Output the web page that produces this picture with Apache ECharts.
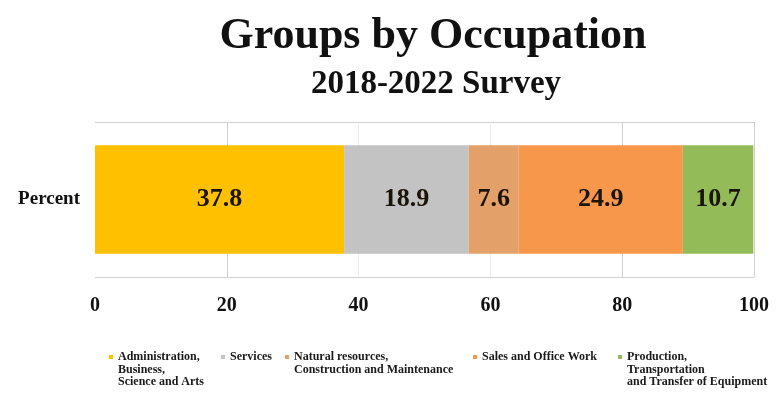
<!DOCTYPE html>
<html>
<head>
<meta charset="utf-8">
<script src="https://cdn.jsdelivr.net/npm/echarts@6/dist/echarts.min.js"></script>
<style>
  html, body { margin: 0; padding: 0; background: #ffffff; }
  #chart { width: 780px; height: 396px; }
</style>
</head>
<body>
<div id="chart"></div>
<script>
// Occupation shares, 2018-2022 survey (percent of total)
const categories = ['Percent'];
const groupNames = [
  'Administration,\nBusiness,\nScience and Arts',
  'Services',
  'Natural resources,\nConstruction and Maintenance',
  'Sales and Office Work',
  'Production,\nTransportation\nand Transfer of Equipment'
];
const groupValues = [37.8, 18.9, 7.6, 24.9, 10.7];
const groupColors = ['#FFC000', '#C3C3C3', '#E3A068', '#F7974B', '#93BC58'];
const axisTicks = [0, 20, 40, 60, 80, 100];

const SERIF = '"Liberation Serif", "Times New Roman", serif';
const LEGEND_LINE = 12.5;
const legendLeft = [109, 221, 285, 473, 618];
const legendFirstLineY = 357;

const series = groupNames.map((name, i) => ({
  name: name,
  type: 'bar',
  stack: 'total',
  barWidth: '70%',
  data: [groupValues[i]],
  itemStyle: { color: groupColors[i] },
  label: {
    show: true,
    position: 'inside',
    formatter: (p) => p.value.toFixed(1),
    fontFamily: SERIF,
    fontWeight: 'bold',
    fontSize: 26,
    color: '#1b1409'
  }
}));

// one legend per group so each entry sits where its text block belongs;
// blank lines ahead of the name keep the square marker level with the first text line
const legends = groupNames.map((name, i) => {
  const lines = name.split('\n').length;
  return {
    data: [name],
    left: legendLeft[i],
    top: legendFirstLineY - (lines - 0.5) * LEGEND_LINE,
    padding: 0,
    icon: 'rect',
    itemWidth: 4,
    itemHeight: 4,
    selectedMode: false,
    formatter: (n) => '\n'.repeat(lines - 1) + n,
    textStyle: {
      fontFamily: SERIF,
      fontWeight: 'bold',
      fontSize: 12,
      lineHeight: LEGEND_LINE,
      color: '#1a1a1a'
    }
  };
});

const chart = echarts.init(document.getElementById('chart'), null, { renderer: 'canvas' });
chart.setOption({
  animation: false,
  backgroundColor: '#ffffff',
  title: [
    {
      text: 'Groups by Occupation',
      left: 428, top: 10, textAlign: 'center',
      textStyle: { fontFamily: SERIF, fontWeight: 'bold', fontSize: 44, color: '#111111' }
    },
    {
      text: '2018-2022 Survey',
      left: 431, top: 63, textAlign: 'center',
      textStyle: { fontFamily: SERIF, fontWeight: 'bold', fontSize: 33, color: '#111111' }
    }
  ],
  legend: legends,
  grid: { left: 95, right: 26, top: 122, bottom: 119, containLabel: false },
  xAxis: {
    type: 'value',
    min: axisTicks[0],
    max: axisTicks[axisTicks.length - 1],
    interval: axisTicks[1] - axisTicks[0],
    axisLine: { show: false },
    axisTick: { show: false },
    axisLabel: {
      margin: 19,
      fontFamily: SERIF,
      fontWeight: 'bold',
      fontSize: 20,
      color: '#111111'
    },
    splitLine: {
      show: true,
      lineStyle: {
        color: ['rgba(0,0,0,0)', '#cfcfcf', '#ececec', '#ececec', '#cfcfcf', '#cfcfcf'],
        width: 1
      }
    }
  },
  yAxis: {
    type: 'category',
    data: categories,
    axisLine: { show: false },
    axisTick: { show: false },
    axisLabel: {
      margin: 15,
      fontFamily: SERIF,
      fontWeight: 'bold',
      fontSize: 19,
      color: '#111111'
    },
    splitLine: { show: true, lineStyle: { color: '#cfcfcf', width: 1 } }
  },
  series: series
});
</script>
</body>
</html>
